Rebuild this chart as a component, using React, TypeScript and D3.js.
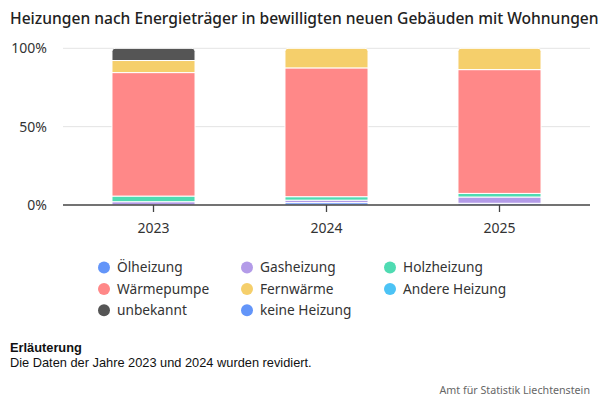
import * as d3 from 'd3';
import React from 'react';

// Jahre und Anteile (in %) je Energieträger
const years = ['2023', '2024', '2025'];
const series = [
  'Ölheizung',
  'Gasheizung',
  'Holzheizung',
  'Wärmepumpe',
  'Fernwärme',
  'Andere Heizung',
  'unbekannt',
  'keine Heizung',
];
const colors = ['#6395f9', '#b39be8', '#4fdbb2', '#ff8888', '#f5cf6b', '#4cc3f5', '#555555', '#6395f9'];

const oel = [0, 1.5, 1.1];
const gas = [2.1, 1.6, 4.0];
const holz = [3.6, 2.2, 2.3];
const waermepumpe = [78.8, 82.2, 79.0];
const fernwaerme = [7.7, 12.5, 13.6];
const andere = [0, 0, 0];
const unbekannt = [7.8, 0, 0];
const keine = [0, 0, 0];

const values = [oel, gas, holz, waermepumpe, fernwaerme, andere, unbekannt, keine];
const yTicks = [0, 50, 100];

const width = 600;
const height = 400;
const marginLeft = 63;
const marginRight = 10;
const plotTop = 48.3;
const plotBottom = 205;

const font = "'Noto Sans', sans-serif";

// Pfad mit abgerundeten oberen Ecken
const topRounded = (x: number, y: number, w: number, h: number, r: number) => {
  const rr = Math.min(r, h, w / 2);
  return `M${x},${y + h}V${y + rr}Q${x},${y} ${x + rr},${y}H${x + w - rr}Q${x + w},${y} ${x + w},${y + rr}V${y + h}Z`;
};

const App: React.FC = () => {
  const x = d3.scaleBand<string>().domain(years).range([67, 586]).paddingInner(0.52).paddingOuter(0.26);
  const y = d3.scaleLinear().domain([0, 100]).range([plotBottom, plotTop]);

  const table = years.map((yr, i) => {
    const row: Record<string, number | string> = { year: yr };
    series.forEach((s, k) => (row[s] = values[k][i]));
    return row;
  });
  const stacked = d3.stack<Record<string, number | string>>().keys(series)(table as any);

  // oberstes Segment je Balken bestimmen
  const topIndex = years.map((_, i) => {
    let top = -1;
    values.forEach((v, k) => {
      if (v[i] > 0) top = k;
    });
    return top;
  });

  const bw = x.bandwidth();

  return (
    <svg width={width} height={height} style={{ position: 'absolute', left: 0, top: 0, background: '#fff' }}>
      <text x={10} y={24} fontFamily={font} fontSize={15.6} fontWeight={500} fill="#222">
        Heizungen nach Energieträger in bewilligten neuen Gebäuden mit Wohnungen
      </text>

      {yTicks.map((t) => (
        <g key={t}>
          {t > 0 && <line x1={marginLeft} x2={width - marginRight} y1={y(t)} y2={y(t)} stroke="#e4e4e4" strokeWidth={1} />}
          <text x={47} y={y(t)} dy="0.35em" textAnchor="end" fontFamily={font} fontSize={14} fill="#333">
            {t}%
          </text>
        </g>
      ))}

      {stacked.map((layer, k) => (
        <g key={series[k]} fill={colors[k]}>
          {layer.map((d, i) => {
            const v = d[1] - d[0];
            if (v <= 0) return null;
            const x0 = x(years[i]) ?? 0;
            const y0 = y(d[1]);
            const h = y(d[0]) - y(d[1]);
            return k === topIndex[i] ? (
              <path key={i} d={topRounded(x0, y0, bw, h, 3)} stroke="#fff" strokeWidth={1} />
            ) : (
              <rect key={i} x={x0} y={y0} width={bw} height={h} stroke="#fff" strokeWidth={1} />
            );
          })}
        </g>
      ))}

      <line x1={marginLeft} x2={width - marginRight} y1={plotBottom} y2={plotBottom} stroke="#444" strokeWidth={1.3} />
      {years.map((yr) => {
        const cx = (x(yr) ?? 0) + bw / 2;
        return (
          <g key={yr}>
            <line x1={cx} x2={cx} y1={plotBottom} y2={plotBottom + 7} stroke="#444" strokeWidth={1.3} />
            <text x={cx} y={233} textAnchor="middle" fontFamily={font} fontSize={14} fill="#333">
              {yr}
            </text>
          </g>
        );
      })}

      {series.map((s, k) => {
        const col = k % 3;
        const row = Math.floor(k / 3);
        const lx = 104 + col * 143;
        const ly = 267.5 + row * 21.4;
        return (
          <g key={s}>
            <circle cx={lx} cy={ly} r={6} fill={colors[k]} />
            <text x={lx + 13} y={ly} dy="0.35em" fontFamily={font} fontSize={13.7} fill="#333">
              {s}
            </text>
          </g>
        );
      })}

      <text x={10} y={352} fontFamily="'Liberation Sans', Arial, sans-serif" fontSize={12.8} fontWeight="bold" fill="#111">
        Erläuterung
      </text>
      <text x={10} y={367} fontFamily="'Liberation Sans', Arial, sans-serif" fontSize={12.8} fill="#111">
        Die Daten der Jahre 2023 und 2024 wurden revidiert.
      </text>
      <text x={590} y={394} textAnchor="end" fontFamily={font} fontSize={10.7} fill="#666">
        Amt für Statistik Liechtenstein
      </text>
    </svg>
  );
};

export default App;
